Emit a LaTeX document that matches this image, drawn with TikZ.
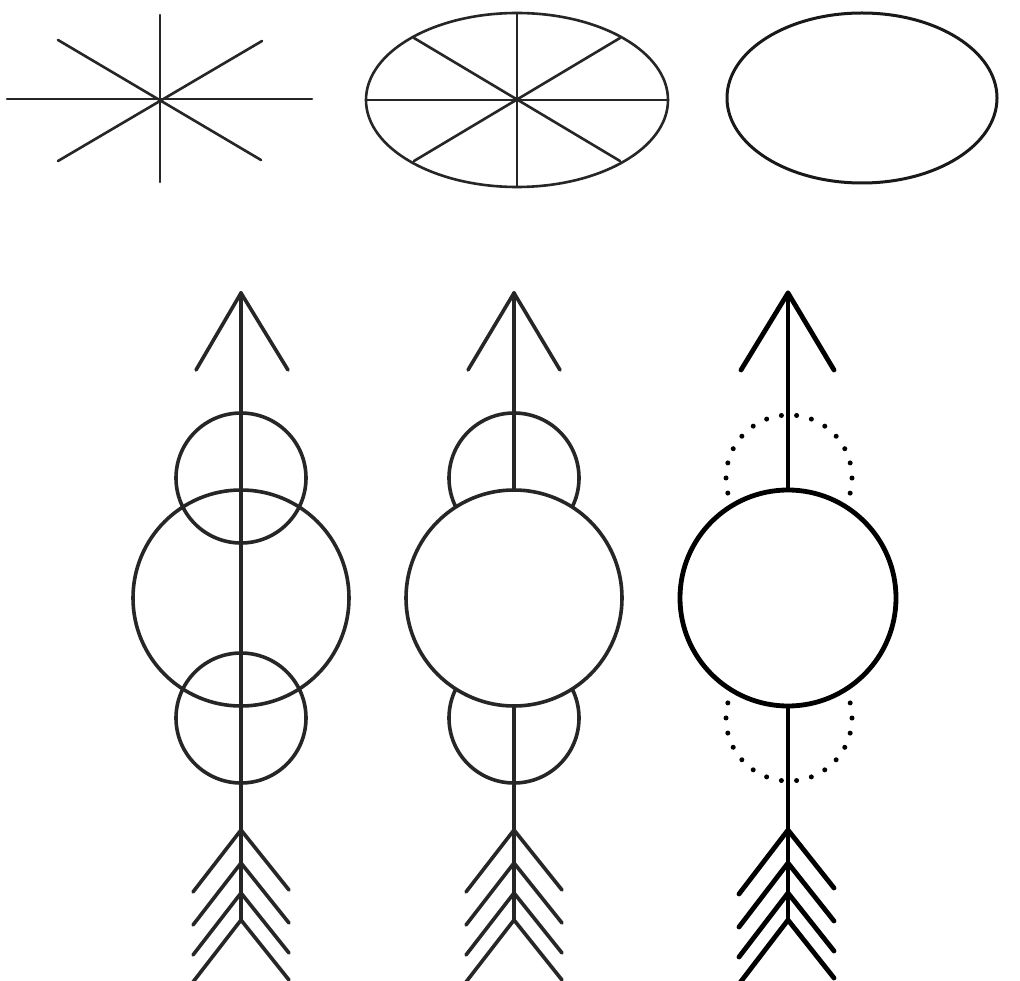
\documentclass[tikz,border=0pt]{standalone}
\begin{document}
\begin{tikzpicture}[x=1pt,y=-1pt,
  thinpen/.style={draw=black!85, line width=2.6pt, line cap=round, line join=round},
  midpen/.style={draw=black!85, line width=3.6pt, line cap=round, line join=round},
  boldpen/.style={draw=black, line width=4.8pt, line cap=round, line join=round},
  dotpen/.style={draw=black, line width=5pt, line cap=round, dash pattern=on 0pt off 15.224pt}]
\useasboundingbox[fill=white] (0,0) rectangle (1020,981);

% ---- top left: star ----
\coordinate (sc) at (160,99);
\coordinate (sl) at (7,99);   \coordinate (sr) at (312,99);
\coordinate (st) at (160,15); \coordinate (sb) at (160,182);
\coordinate (d1) at (58,40);  \coordinate (d2) at (261,160);
\coordinate (d3) at (58,161); \coordinate (d4) at (262,41);
\draw[thinpen] (sl) -- (sr);
\draw[thinpen] (st) -- (sb);
\draw[thinpen] (d1) -- (d2);
\draw[thinpen] (d3) -- (d4);

% ---- top middle: ellipse with spokes ----
\coordinate (ec) at (517,100);
\draw[thinpen] (ec) ellipse [x radius=151pt, y radius=87pt];
\draw[thinpen] (366,100) -- (668,100);
\draw[thinpen] (517,13) -- (517,187);
\draw[thinpen] (414,38) -- (620,161);
\draw[thinpen] (414,161) -- (620,38);

% ---- top right: plain ellipse ----
\coordinate (fc) at (862,98);
\draw[thinpen, line width=3pt, draw=black!90] (fc) ellipse [x radius=135pt, y radius=85pt];

% ---- arrow 1: all circles visible ----
\begin{scope}[shift={(241,0)}]
  \draw[midpen] (0,478) circle [radius=65pt];
  \draw[midpen] (0,718) circle [radius=65pt];
  \draw[midpen] (0,598) circle [radius=108pt];
  \draw[midpen] (0,293) -- (0,920);
  \draw[midpen] (-45,370) -- (0,293) -- (47,370);
  \foreach \yy in {830,863,893,920}
    \draw[midpen] (-48,\yy+62) -- (0,\yy) -- (48,\yy+60);
\end{scope}

% ---- arrow 2: big circle covers the rest ----
\begin{scope}[shift={(514,0)}]
  \draw[midpen] (0,478) circle [radius=65pt];
  \draw[midpen] (0,718) circle [radius=65pt];
  \draw[midpen] (0,293) -- (0,920);
  \draw[midpen, fill=white] (0,598) circle [radius=108pt];
  \draw[midpen] (-46,370) -- (0,293) -- (46,370);
  \foreach \yy in {830,863,893,920}
    \draw[midpen] (-48,\yy+62) -- (0,\yy) -- (48,\yy+60);
\end{scope}

% ---- arrow 3: bold, dotted small circles ----
\begin{scope}[shift={(788,0)}]
  \draw[dotpen] (1,478) circle [radius=63pt];
  \draw[dotpen] (1,718) circle [radius=63pt];
  \draw[boldpen] (0,293) -- (0,920);
  \draw[boldpen, fill=white] (0,598) circle [radius=108pt];
  \draw[boldpen] (-47,370) -- (0,293) -- (46,370);
  \foreach \yy in {830,863,893,920}
    \draw[boldpen] (-49,\yy+64) -- (0,\yy) -- (46,\yy+58);
\end{scope}
\end{tikzpicture}
\end{document}
